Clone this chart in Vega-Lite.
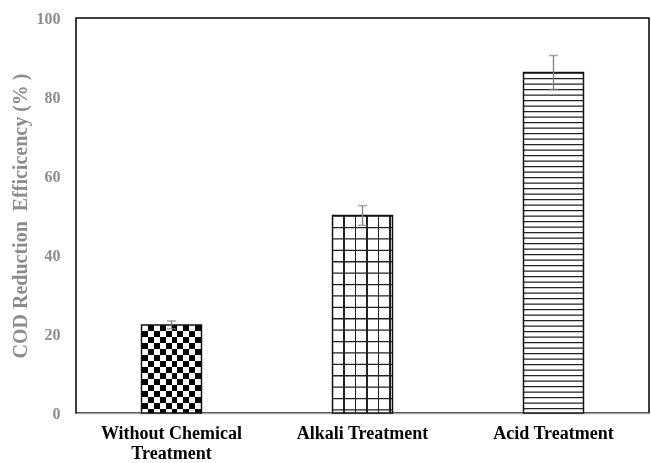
{
  "$schema": "https://vega.github.io/schema/vega-lite/v6.json",
  "width": 573,
  "height": 395,
  "autosize": {"type": "none"},
  "padding": {"left": 76, "top": 18, "right": 2, "bottom": 50},
  "background": "white",
  "config": {
    "view": {"stroke": "#000000", "strokeWidth": 1.5},
    "font": "Liberation Serif"
  },
  "data": {
    "values": [
      {"treatment": "Without Chemical Treatment", "efficiency": 22.3, "low": 21.3, "high": 23.3},
      {"treatment": "Alkali Treatment", "efficiency": 50.0, "low": 47.5, "high": 52.5},
      {"treatment": "Acid Treatment", "efficiency": 86.2, "low": 81.9, "high": 90.5}
    ]
  },
  "encoding": {
    "x": {
      "field": "treatment",
      "type": "nominal",
      "sort": null,
      "scale": {"paddingInner": 0.686, "paddingOuter": 0.343},
      "axis": {
        "title": null,
        "labelAngle": 0,
        "labelFont": "Liberation Serif",
        "labelFontWeight": "bold",
        "labelFontSize": 18,
        "labelColor": "#000000",
        "labelPadding": 11,
        "labelLineHeight": 20,
        "labelLimit": 300,
        "labelBaseline": "top",
        "labelExpr": "datum.label == 'Without Chemical Treatment' ? ['Without Chemical', 'Treatment'] : datum.label",
        "ticks": false,
        "domainColor": "#a6a6a6",
        "domainWidth": 1.5
      }
    }
  },
  "layer": [
    {
      "transform": [{"filter": "datum.treatment == 'Without Chemical Treatment'"}],
      "mark": {
        "type": "bar",
        "fill": {
          "gradient": "linear", "x1": 0, "y1": 0, "x2": 1, "y2": 0,
          "stops": [
            {"offset": 0, "color": "#000000"}, {"offset": 0.1, "color": "#000000"},
            {"offset": 0.1, "color": "#ffffff"}, {"offset": 0.2, "color": "#ffffff"},
            {"offset": 0.2, "color": "#000000"}, {"offset": 0.3, "color": "#000000"},
            {"offset": 0.3, "color": "#ffffff"}, {"offset": 0.4, "color": "#ffffff"},
            {"offset": 0.4, "color": "#000000"}, {"offset": 0.5, "color": "#000000"},
            {"offset": 0.5, "color": "#ffffff"}, {"offset": 0.6, "color": "#ffffff"},
            {"offset": 0.6, "color": "#000000"}, {"offset": 0.7, "color": "#000000"},
            {"offset": 0.7, "color": "#ffffff"}, {"offset": 0.8, "color": "#ffffff"},
            {"offset": 0.8, "color": "#000000"}, {"offset": 0.9, "color": "#000000"},
            {"offset": 0.9, "color": "#ffffff"}, {"offset": 1, "color": "#ffffff"}
          ]
        }
      },
      "encoding": {
        "y": {
          "field": "efficiency",
          "type": "quantitative",
          "scale": {"domain": [0, 100], "nice": false},
          "axis": {
            "title": "COD Reduction\u00a0\u00a0Efficicency (%\u00a0)",
            "titleFont": "Liberation Serif",
            "titleFontWeight": "bold",
            "titleFontSize": 20,
            "titleColor": "#8c8c8c",
            "titlePadding": 6,
            "values": [0, 20, 40, 60, 80, 100],
            "labelFont": "Liberation Serif",
            "labelFontWeight": "bold",
            "labelFontSize": 16,
            "labelColor": "#8c8c8c",
            "labelPadding": 16,
            "ticks": false,
            "domain": false,
            "grid": false
          }
        }
      }
    },
    {
      "transform": [{"filter": "datum.treatment == 'Without Chemical Treatment'"}],
      "mark": {
        "type": "rule",
        "stroke": "#ffffff",
        "strokeWidth": 60,
        "strokeDash": [6, 6],
        "strokeCap": "butt",
        "blend": "difference"
      },
      "encoding": {
        "y": {"field": "efficiency", "type": "quantitative"},
        "y2": {"datum": 0}
      }
    },
    {
      "transform": [{"filter": "datum.treatment == 'Alkali Treatment'"}],
      "mark": {
        "type": "bar",
        "fill": {
          "gradient": "linear", "x1": 0, "y1": 0, "x2": 1, "y2": 0,
          "stops": [
            {"offset": 0, "color": "#ffffff"},
            {"offset": 0.181, "color": "#ffffff"}, {"offset": 0.181, "color": "#222222"},
            {"offset": 0.203, "color": "#222222"}, {"offset": 0.203, "color": "#ffffff"},
            {"offset": 0.372, "color": "#ffffff"}, {"offset": 0.372, "color": "#222222"},
            {"offset": 0.394, "color": "#222222"}, {"offset": 0.394, "color": "#ffffff"},
            {"offset": 0.564, "color": "#ffffff"}, {"offset": 0.564, "color": "#222222"},
            {"offset": 0.586, "color": "#222222"}, {"offset": 0.586, "color": "#ffffff"},
            {"offset": 0.756, "color": "#ffffff"}, {"offset": 0.756, "color": "#222222"},
            {"offset": 0.778, "color": "#222222"}, {"offset": 0.778, "color": "#ffffff"},
            {"offset": 0.947, "color": "#ffffff"}, {"offset": 0.947, "color": "#222222"},
            {"offset": 0.969, "color": "#222222"}, {"offset": 0.969, "color": "#ffffff"},
            {"offset": 1, "color": "#ffffff"}
          ]
        }
      },
      "encoding": {
        "y": {"field": "efficiency", "type": "quantitative"}
      }
    },
    {
      "transform": [{"filter": "datum.treatment == 'Alkali Treatment'"}],
      "mark": {
        "type": "rule",
        "stroke": "#222222",
        "strokeWidth": 60,
        "strokeDash": [1.3, 10.1],
        "strokeCap": "butt"
      },
      "encoding": {
        "y": {"field": "efficiency", "type": "quantitative"},
        "y2": {"datum": 0}
      }
    },
    {
      "transform": [{"filter": "datum.treatment == 'Acid Treatment'"}],
      "mark": {"type": "bar", "fill": "#ffffff"},
      "encoding": {
        "y": {"field": "efficiency", "type": "quantitative"}
      }
    },
    {
      "transform": [{"filter": "datum.treatment == 'Acid Treatment'"}],
      "mark": {
        "type": "rule",
        "stroke": "#222222",
        "strokeWidth": 60,
        "strokeDash": [1.2, 4.3],
        "strokeCap": "butt"
      },
      "encoding": {
        "y": {"field": "efficiency", "type": "quantitative"},
        "y2": {"datum": 0}
      }
    },
    {
      "mark": {"type": "bar", "fill": "#ffffff", "fillOpacity": 0, "stroke": "#111111", "strokeWidth": 1.5},
      "encoding": {
        "y": {"field": "efficiency", "type": "quantitative"}
      }
    },
    {
      "mark": {"type": "rule", "stroke": "#808080", "strokeWidth": 1.3},
      "encoding": {
        "y": {"field": "low", "type": "quantitative"},
        "y2": {"field": "high"}
      }
    },
    {
      "mark": {"type": "tick", "color": "#808080", "size": 9, "thickness": 1.5, "orient": "horizontal"},
      "encoding": {
        "y": {"field": "low", "type": "quantitative"}
      }
    },
    {
      "mark": {"type": "tick", "color": "#808080", "size": 9, "thickness": 1.5, "orient": "horizontal"},
      "encoding": {
        "y": {"field": "high", "type": "quantitative"}
      }
    }
  ]
}
